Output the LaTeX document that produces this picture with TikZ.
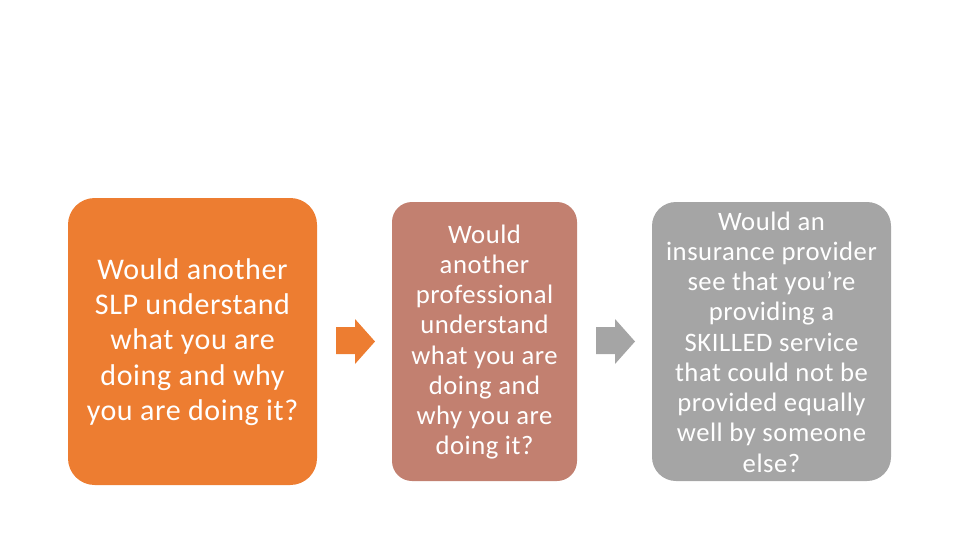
\documentclass[tikz,border=0pt]{standalone}
\usepackage{fontspec}
\setmainfont{Carlito}[LetterSpace=2]

\definecolor{boxorange}{RGB}{237,125,49}
\definecolor{boxrose}{RGB}{194,128,112}
\definecolor{boxgray}{RGB}{165,165,165}

\tikzset{every picture/.style={line width=0.75pt}}
\tikzset{
  qbox/.style={inner sep=0pt, text=white, align=center},
  bigtext/.style={font=\fontsize{22.5}{26.4}\selectfont},
  smalltext/.style={font=\fontsize{20}{22.7}\selectfont}
}

\begin{document}
\begin{tikzpicture}[x=0.75pt,y=0.75pt,yscale=-1,xscale=1]
\useasboundingbox (0,0) rectangle (960,540);

% Boxes
\draw [fill=boxorange, draw=none, rounded corners=20] (68,198) rectangle (317,485);
\node (slp) [qbox, bigtext] at (192.5,342)
  {Would another\\SLP understand\\what you are\\doing and why\\you are doing it?};

\draw [fill=boxrose, draw=none, rounded corners=15] (392,202) rectangle (577,481);
\node (prof) [qbox, smalltext] at (484.5,342)
  {Would\\another\\professional\\understand\\what you are\\doing and\\why you are\\doing it?};

\draw [fill=boxgray, draw=none, rounded corners=18] (652,202) rectangle (891,481);
\node (ins) [qbox, smalltext] at (771.5,342)
  {Would an\\insurance provider\\see that you’re\\providing a\\SKILLED service\\that could not be\\provided equally\\well by someone\\else?};

% Arrows
\fill [boxorange] (336,327) -- (355,327) -- (355,319) -- (375,341.5) -- (355,364) -- (355,354) -- (336,354) -- cycle;
\fill [boxgray] (596,327) -- (615,327) -- (615,319) -- (635,341.5) -- (615,364) -- (615,354) -- (596,354) -- cycle;

\end{tikzpicture}
\end{document}
